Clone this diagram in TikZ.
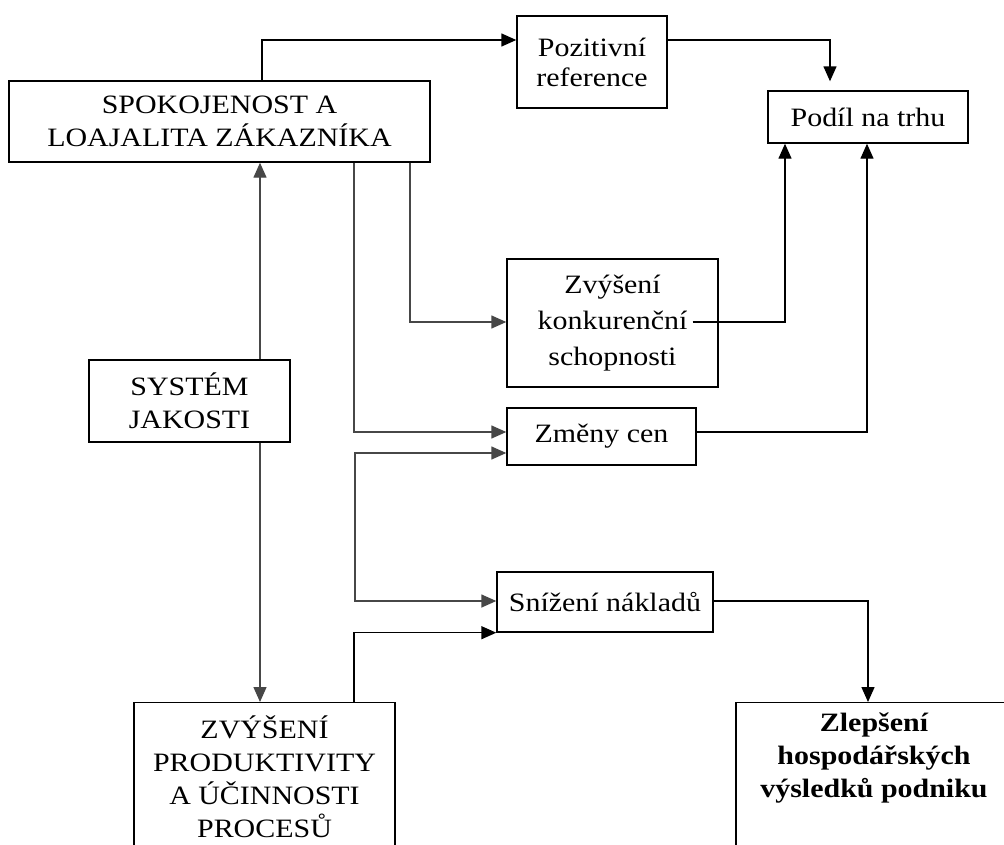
\documentclass[tikz,border=0pt]{standalone}
\usepackage{fontspec}
\setmainfont[FakeStretch=1.13]{Liberation Serif}
\usepackage{tikz}
\usetikzlibrary{arrows.meta}
\tikzset{
    plain-box/.style = {draw=black, line width=1.4pt, rectangle, inner sep=0pt, align=center, font=\fontsize{26.5}{33}\selectfont},
    open-box/.style = {plain-box, anchor=north, inner ysep=13pt, text depth=160pt},
    flow-line/.style = {draw=black, line width=1.4pt, -{Triangle[length=15pt,width=13pt]}},
    grey-line/.style = {flow-line, draw=black!72},
}

\begin{document}
\begin{tikzpicture}[x=1pt, y=-1pt]
\useasboundingbox (0,0) rectangle (1004,844);
\clip (0,0) rectangle (1004,844);
\fill[white] (0,0) rectangle (1004,844);
% boxes
\node[plain-box, minimum width=421pt, minimum height=81pt] (spok) at (219.5,121.5) {SPOKOJENOST A\\LOAJALITA ZÁKAZNÍKA};
\node[plain-box, minimum width=150pt, minimum height=92pt, font=\fontsize{26.5}{30}\selectfont] (poz) at (592,62) {Pozitivní\\reference};
\node[plain-box, minimum width=200pt, minimum height=52pt] (podil) at (868,117) {Podíl na trhu};
\node[plain-box, minimum width=211pt, minimum height=128pt, font=\fontsize{26.5}{36}\selectfont] (zk) at (612.5,323) {Zvýšení\\konkurenční\\schopnosti};
\node[plain-box, minimum width=189pt, minimum height=57pt] (zc) at (601.5,436.5) {Změny cen};
\node[plain-box, minimum width=201pt, minimum height=82pt] (sys) at (189.5,401) {SYSTÉM\\JAKOSTI};
\node[plain-box, minimum width=216pt, minimum height=60pt] (sn) at (605,602) {Snížení nákladů};
\node[open-box, minimum width=261pt] (zp) at (264.5,702) {ZVÝŠENÍ\\PRODUKTIVITY\\A ÚČINNOSTI\\PROCESŮ};
\node[open-box, minimum width=276pt, inner ysep=10pt, font=\fontsize{26.5}{33}\selectfont\bfseries] (zlep) at (874,702) {Zlepšení\\hospodářských\\výsledků podniku};
% connectors
\draw[flow-line] (spok.north -| 262,0) |- (poz.west |- 0,40);
\draw[flow-line, shorten >=9pt] (poz.east |- 0,40) -| (podil.north -| 830,0);
\draw[grey-line] (spok.south -| 410,0) |- (zk.west |- 0,322);
\draw[flow-line] ([xshift=-26pt]zk.east |- 0,322) -| (podil.south -| 785,0);
\draw[grey-line] (spok.south -| 354,0) |- (zc.west |- 0,432);
\draw[flow-line] (zc.east |- 0,432) -| (podil.south -| 867,0);
\draw[grey-line, {Triangle[length=15pt,width=13pt]}-{Triangle[length=15pt,width=13pt]}] (zc.west |- 0,453) -| (355,601) -- (sn.west |- 0,601);
\draw[flow-line] (zp.north -| 354,0) |- (sn.south west);
\draw[flow-line] (sn.east |- 0,601) -| (zlep.north -| 868,0);
\draw[grey-line] (sys.north -| 260,0) -- (spok.south -| 260,0);
\draw[grey-line] (sys.south -| 260,0) -- (zp.north -| 260,0);
\end{tikzpicture}
\end{document}
